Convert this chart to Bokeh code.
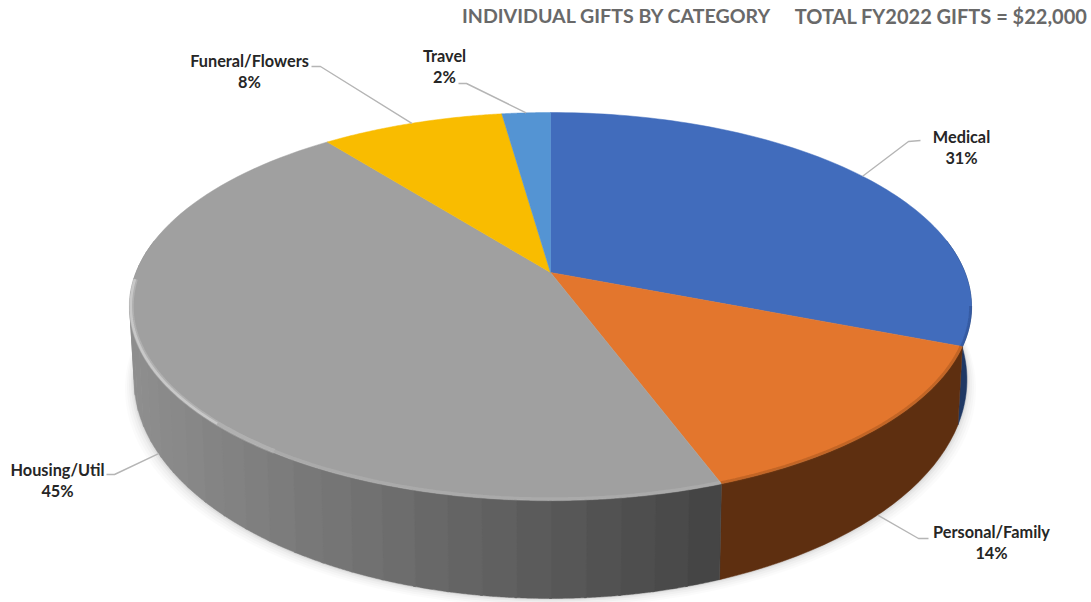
import numpy as np
from bokeh.plotting import figure
from bokeh.embed import file_html
from bokeh.resources import INLINE
from bokeh.core.properties import value
from bokeh.models import Range1d

# ---- data (clockwise from 12 o'clock)
categories = ["Medical", "Personal/Family", "Housing/Util", "Funeral/Flowers", "Travel"]
shares = [31.0, 13.4, 45.1, 8.3, 2.2]
pct_labels = ["31%", "14%", "45%", "8%", "2%"]
title_parts = ["INDIVIDUAL GIFTS BY CATEGORY", "TOTAL FY2022 GIFTS = $22,000"]

# ---- styles
top_colors = ["#416cbc", "#e3762d", "#a0a0a0", "#f9bc00", "#5494d3"]
wall_colors = ["#1f3864", "#5e2f10", None, "#7a5c00", "#2a5a8c"]
label_xy = [(961, 146), (991, 541), (57, 479), (249, 70), (444, 65)]
leader_elbow = [((920, 140), (908, 141)), ((928, 538), (918, 538)), ((106, 474), (114, 474)),
                ((311, 66), (320, 66)), ((458, 83), (466, 83))]

# ---- perspective disc projection
K = 0.175
def project(angle_deg, radius=1.0, bottom=False):
    a = np.radians(angle_deg)
    u, n = radius * np.sin(a), -radius * np.cos(a)
    w = 1 - K * n
    if bottom:
        return 550 + 410 * u / w, 341 + 212 * n / w
    return 550 + 414.5 * u / w, 272 + 188 * n / w

cum = np.cumsum([0] + shares) / sum(shares) * 360

p = figure(width=1091, height=602, output_backend="svg", toolbar_location=None,
           x_range=Range1d(0, 1091), y_range=Range1d(602, 0), min_border=0)
p.axis.visible = False
p.grid.visible = False
p.outline_line_color = None
p.background_fill_color = "white"
p.border_fill_color = "white"

# soft shadow under the front wall
t_all = np.linspace(70, 290, 160)
for grow, alpha in [(9, .015), (7, .02), (5, .025), (3, .03), (1.5, .04)]:
    bx, by = project(t_all, bottom=True)
    tx, ty = project(t_all[::-1])
    sx = np.concatenate([550 + (bx - 550) * (1 + grow / 410), tx])
    sy = np.concatenate([by + grow, ty])
    p.patch(sx, sy, fill_color="#000000", fill_alpha=alpha, line_color=None)

# front wall, slice by slice, in strips
wx, wy, wc = [], [], []
n_strips = 30
grey_dark, grey_light = 0x43, 0x8e
for i in range(len(shares)):
    a0, a1 = cum[i], cum[i + 1]
    lo, hi = max(a0, 80), min(a1, 280)
    if hi <= lo:
        continue
    strips = n_strips if categories[i] == "Housing/Util" else 1
    edges = np.linspace(lo, hi, strips + 1)
    for s in range(strips):
        t = np.linspace(edges[s], edges[s + 1] + (0.25 if s < strips - 1 else 0), 24)
        tx, ty = project(t)
        bx, by = project(t, bottom=True)
        wx.append(np.concatenate([tx, bx[::-1]]))
        wy.append(np.concatenate([ty, by[::-1]]))
        if wall_colors[i] is None:
            f = float(np.clip((np.mean(tx) - 135) / (722 - 135), 0, 1))
            g = int(round(grey_light + (grey_dark - grey_light) * f))
            wc.append(f"#{g:02x}{g:02x}{g:02x}")
        else:
            wc.append(wall_colors[i])
p.patches(wx, wy, fill_color=wc, line_color=wc, line_width=0.5)

# top face
xs, ys = [], []
for i in range(len(shares)):
    t = np.linspace(cum[i], cum[i + 1], 90)
    x, y = project(t)
    xs.append(np.concatenate([[550], x]))
    ys.append(np.concatenate([[272], y]))
p.patches(xs, ys, fill_color=top_colors, line_color=top_colors, line_width=0.5)

# soft bevel along the front rim of the top face
def rim(t0, t1, radius, color, width, alpha):
    t = np.linspace(t0, t1, 80)
    x, y = project(t, radius)
    p.line(x, y, line_color=color, line_width=width, line_alpha=alpha)

grey_i = categories.index("Housing/Util")
orange_i = categories.index("Personal/Family")
blue_i = categories.index("Medical")
rim(cum[grey_i], 215, 0.996, "#d0d0d0", 4, .2)
rim(215, 268, 0.996, "#d8d8d8", 5, .3)
rim(225, 268, 0.997, "#dcdcdc", 2.5, .55)
rim(cum[orange_i], cum[orange_i + 1], 0.998, "#7a3f14", 4, .3)
rim(100, cum[blue_i + 1], 0.998, "#2a4a8a", 3, .5)

# leader lines, aimed at each slice's middle on the rim
lx, ly = [], []
front = ["Personal/Family", "Housing/Util"]
for i, c in enumerate(categories):
    mid = (cum[i] + cum[i + 1]) / 2
    ex, ey = project(mid, bottom=c in front)
    (x0, y0), (x1, y1) = leader_elbow[i]
    lx.append([x0, x1, float(ex)])
    ly.append([y0, y1, float(ey)])
p.multi_line(lx, ly, line_color="#b5b5b5", line_width=1.4)

# labels
for i, c in enumerate(categories):
    x, y = label_xy[i]
    p.text([x], [y - 10], text=[c], text_font=value("Lato"), text_font_style="bold",
           text_font_size="16.3px", text_color="#262626", text_align="center", text_baseline="middle")
    p.text([x], [y + 11], text=[pct_labels[i]], text_font=value("Lato"), text_font_style="bold",
           text_font_size="16.3px", text_color="#262626", text_align="center", text_baseline="middle")

p.text([771], [15], text=[title_parts[0]], text_font=value("Lato"), text_font_style="bold",
       text_font_size="19.6px", text_color="#696969", text_align="right", text_baseline="middle")
p.text([1087], [15], text=[title_parts[1]], text_font=value("Lato"), text_font_style="bold",
       text_font_size="20px", text_color="#696969", text_align="right", text_baseline="middle")

open("out.html", "w").write(file_html(p, INLINE))
